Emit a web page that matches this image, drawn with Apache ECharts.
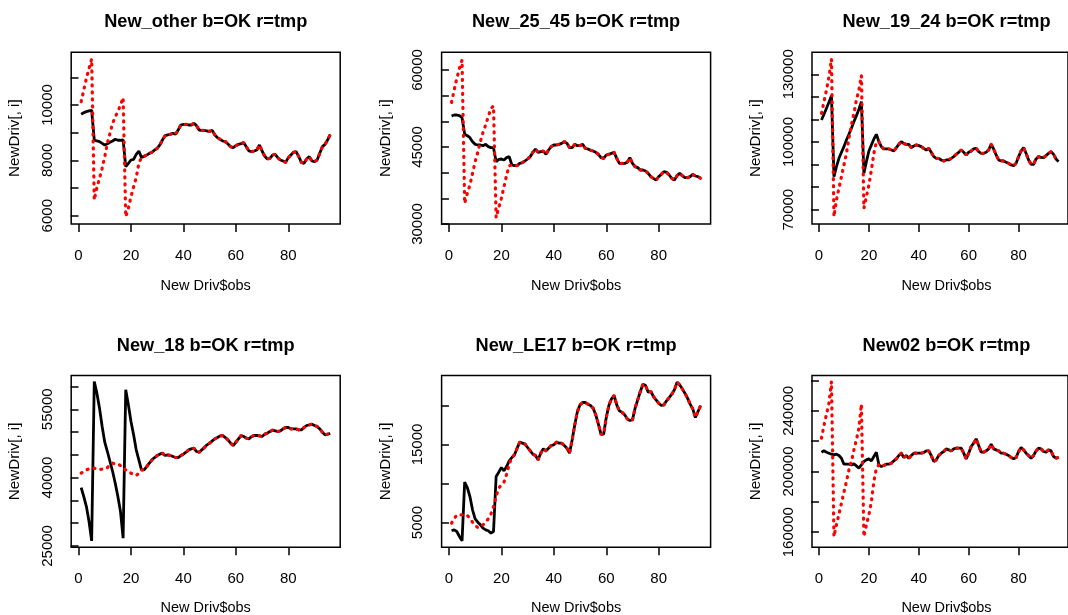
<!DOCTYPE html>
<html><head><meta charset="utf-8">
<script src="https://cdn.jsdelivr.net/npm/echarts@6/dist/echarts.min.js"></script>
<style>html,body{margin:0;padding:0;background:#fff}#c{width:1068px;height:615px}</style>
</head><body><div id="c"></div>
<script>
// ---------- data ----------
const titles = ['New_other b=OK r=tmp','New_25_45 b=OK r=tmp','New_19_24 b=OK r=tmp','New_18 b=OK r=tmp','New_LE17 b=OK r=tmp','New02 b=OK r=tmp'];
const xLabel = 'New Driv$obs';
const yLabel = 'NewDriv[, i]';
const xTicks = [0, 20, 40, 60, 80];

const okOther = [9663,9723,9760,9785,9810,8735,8700,8675,8615,8555,8600,8650,8700,8760,8725,8725,8735,7771,7890,8012,8036,8217,8337,8108,8145,8190,8253,8290,8373,8434,8555,8735,8892,8916,8940,8976,8940,9096,9277,9301,9301,9277,9277,9337,9253,9096,9084,9084,9060,9048,9084,8916,8819,8759,8699,8675,8590,8494,8458,8530,8578,8602,8639,8494,8337,8313,8337,8373,8555,8337,8157,8048,8072,8193,8217,8096,8012,7976,7928,8096,8193,8289,8313,8133,7928,7892,8048,8133,7976,7952,8012,8253,8494,8578,8735,8940];
const tmpOtherHead = [10120,10542,10964,11325,11663,6566,7012,7349,7711,8133,8614,8976,9337,9578,9759,10000,10265,5964,6265,6687,7048,7373,7892];

const ok2545 = [51039,51234,51234,51104,50714,47467,47208,46818,46039,45519,45390,45390,45260,45519,45065,44870,44870,42143,42597,42662,42468,42922,43117,41494,41364,41364,41818,41948,42273,42662,43117,43961,44610,43961,44091,44221,43571,44416,45065,45390,45390,45519,45714,46039,45714,44870,44870,45519,45260,45260,45519,44740,44610,44351,44221,43961,43571,42922,42792,43442,43571,43766,43961,42792,41818,41818,41818,42013,42922,41818,41169,40974,40519,40519,40325,39870,39221,38896,38571,39221,39675,40195,40065,39545,38896,38571,39416,39870,39416,39026,39026,39221,39675,39351,39221,38896];
const tmp2545Head = [53701,56104,58377,60325,61948,34026,35974,37597,39870,42143,43961,46039,47857,49286,50909,52532,52987,31234,33182,35000,37273,39545,41364];

const ok1924 = [109764,112275,114934,117592,120546,84653,89084,92777,95436,97947,100901,103412,106071,109025,111684,114490,117888,86130,91300,96027,98685,101344,103412,100163,97947,96913,96913,96913,96470,96027,97504,98981,100163,99276,98981,98981,97504,98242,98685,98390,97947,97208,96470,97208,95436,93516,92777,92777,92038,91595,92038,92038,92777,93516,94549,95436,96470,95436,94254,95436,96027,96913,97208,95731,94993,94993,95436,96470,98981,96913,94254,92038,91595,91595,91004,90561,89823,89527,90561,93516,96027,97504,94993,92038,90118,90118,92482,93516,93220,93072,93959,94993,95731,94549,92482,91300];
const tmp1924Head = [112718,117888,123058,128966,136795,66928,74313,79483,84653,89823,94993,101639,107548,112718,118626,123058,129409,70620,75790,80960,87607,94993,100163];

const ok18 = [37818,35842,33646,30351,26105,61098,58536,55242,51215,47775,45725,43529,41332,38770,35842,32548,26691,59268,55974,52313,49385,46091,43895,41698,41698,42430,43163,43895,44407,44846,45139,45359,44846,44993,44846,44627,44407,44407,44846,45139,45578,46091,46310,46457,45725,45578,46091,46603,47189,47555,48067,48507,48799,49165,49238,48799,48287,47555,47042,47775,48507,49238,49018,48653,48507,49018,49238,49238,49165,49018,49531,49751,50117,50410,50264,50117,50264,50703,50996,50996,50703,50703,50703,50483,50483,50996,51435,51581,51728,51435,51215,50703,49971,49385,49531,49678];
const tmp18Head = [40966,41332,41698,41918,42064,42064,41918,41772,41845,41918,42211,42796,43163,42943,42943,42650,42064,41698,41332,40966,40747,40454,40966];

const okLE17 = [3932,4060,3846,3205,2650,10171,9487,8333,6624,5470,5043,4701,4274,4060,3932,3632,3846,10897,11453,12051,11624,12179,12906,13333,13675,14530,15299,15171,15043,14615,14188,13761,13590,13034,13889,14444,14188,14530,14872,14957,15299,15171,15171,14872,14530,13889,15598,17521,19231,20085,20385,20385,20171,20000,19658,18803,17607,16325,16325,18462,20000,20855,21282,20085,19316,19145,18803,18291,18077,18162,19658,20726,21795,22735,22564,21709,21795,21154,20726,20299,20000,20085,20598,21026,21453,22009,22991,22650,22137,21581,20940,20171,19573,18462,19231,20000];
const tmpLE17Head = [4915,5470,5983,5983,5983,5983,5897,5556,5043,4615,4359,4487,4701,5043,5470,6068,7051,8333,9402,9829,10171,11197,12479];

const ok02 = [212747,213626,212747,212088,211429,210989,211429,210549,208791,204835,204835,204835,204396,205055,203736,202198,204396,206593,207692,208352,207033,209890,212747,204396,203297,203956,204835,204835,205495,207033,208352,210549,212088,209231,210549,208791,210549,212088,212088,212088,212088,212527,213626,213626,210549,206593,207692,210549,212088,213187,214945,214286,213626,214945,215385,215385,215385,212088,208352,212088,216484,218681,221538,217143,212747,212747,213626,214945,218022,214945,214286,213626,212088,212088,211429,210549,209231,208352,209231,213187,215824,214286,212088,210549,208791,210549,213626,215385,214945,213187,212747,214286,213626,209890,208791,209231];
const tmp02Head = [221978,230330,237802,245055,259341,157143,164835,171868,179121,186374,193407,201099,206593,214286,220879,228571,244396,157143,164835,171429,180220,193407,202198];

const yTicks1 = [6000,7000,8000,9000,10000,11000];
const yLabels1 = [6000,8000,10000];
const yTicks2 = [30000,35000,40000,45000,50000,55000,60000];
const yLabels2 = [30000,45000,60000];
const yTicks3 = [70000,80000,90000,100000,110000,120000,130000];
const yLabels3 = [70000,100000,130000];
const yTicks4 = [25000,30000,35000,40000,45000,50000,55000,60000];
const yLabels4 = [25000,40000,55000];
const yTicks5 = [5000,10000,15000,20000];
const yLabels5 = [5000,15000];
const yTicks6 = [160000,180000,200000,220000,240000,260000];
const yLabels6 = [160000,200000,240000];

// ---------- build ----------
const okSets = [okOther, ok2545, ok1924, ok18, okLE17, ok02];
const tmpHeads = [tmpOtherHead, tmp2545Head, tmp1924Head, tmp18Head, tmpLE17Head, tmp02Head];
const yTickSets = [yTicks1, yTicks2, yTicks3, yTicks4, yTicks5, yTicks6];
const yLabelSets = [yLabels1, yLabels2, yLabels3, yLabels4, yLabels5, yLabels6];
const yRanges = [[5700,11903],[30000,63450],[63664,139747],[24715,62415],[1831,23849],[150112,263296]];

const FONT = '"Liberation Sans", Arial, Helvetica, sans-serif';
const COL_W = 370.4, ROW_H = 323.2, BOX_L = 71.2, BOX_T = 52.3, BOX_W = 269, BOX_H = 171.7;

const grid = [], xAxis = [], yAxis = [], series = [], graphic = [];
for (let i = 0; i < 6; i++) {
  const c = i % 3, r = Math.floor(i / 3);
  const gl = BOX_L + c * COL_W, gt = BOX_T + r * ROW_H;
  grid.push({left: gl, top: gt, width: BOX_W, height: BOX_H, show: true,
    borderColor: '#000', borderWidth: 1.5, backgroundColor: 'transparent'});
  xAxis.push({type: 'value', gridIndex: i, min: -2.8, max: 99.8,
    splitLine: {show: false}, axisLine: {show: false},
    axisTick: {show: true, customValues: xTicks, length: 8, lineStyle: {color: '#000', width: 1.5}},
    axisLabel: {customValues: xTicks, margin: 24, fontSize: 15, color: '#000', fontFamily: FONT}});
  yAxis.push({type: 'value', gridIndex: i, min: yRanges[i][0], max: yRanges[i][1],
    splitLine: {show: false}, axisLine: {show: false},
    axisTick: {show: true, customValues: yTickSets[i], length: 8, lineStyle: {color: '#000', width: 1.5}},
    axisLabel: {customValues: yLabelSets[i], rotate: 90, margin: 16, fontSize: 15, color: '#000',
      fontFamily: FONT, formatter: v => String(v)}});
  const ok = okSets[i], head = tmpHeads[i];
  const n = ok.length;
  const okData = [], tmpData = [];
  for (let k = 0; k < n; k++) {
    okData.push([k + 1, ok[k]]);
    tmpData.push([k + 1, k < head.length ? head[k] : ok[k]]);
  }
  series.push({type: 'line', xAxisIndex: i, yAxisIndex: i, data: okData, symbol: 'none',
    lineStyle: {color: '#000', width: 2.8}, z: 2, silent: true});
  series.push({type: 'line', xAxisIndex: i, yAxisIndex: i, data: tmpData, symbol: 'none',
    lineStyle: {color: '#ff0000', width: 3.2, type: [1, 6], cap: 'round'}, z: 3, silent: true});
  const cx = gl + BOX_W / 2;
  graphic.push({type: 'text', x: cx, y: 22 + r * 323.5,
    style: {text: titles[i], fill: '#000', font: 'bold 18.2px ' + FONT, textAlign: 'center', textVerticalAlign: 'middle'}});
  graphic.push({type: 'text', x: cx, y: 286 + r * 321.5,
    style: {text: xLabel, fill: '#000', font: '14.5px ' + FONT, textAlign: 'center', textVerticalAlign: 'middle'}});
  graphic.push({type: 'text', x: gl - 56, y: gt + BOX_H / 2, rotation: Math.PI / 2,
    style: {text: yLabel, fill: '#000', font: '15.2px ' + FONT, textAlign: 'center', textVerticalAlign: 'middle'}});
}

const chart = echarts.init(document.getElementById('c'), null, {renderer: 'canvas'});
chart.setOption({animation: false, backgroundColor: '#fff', grid, xAxis, yAxis, series, graphic});
</script></body></html>
